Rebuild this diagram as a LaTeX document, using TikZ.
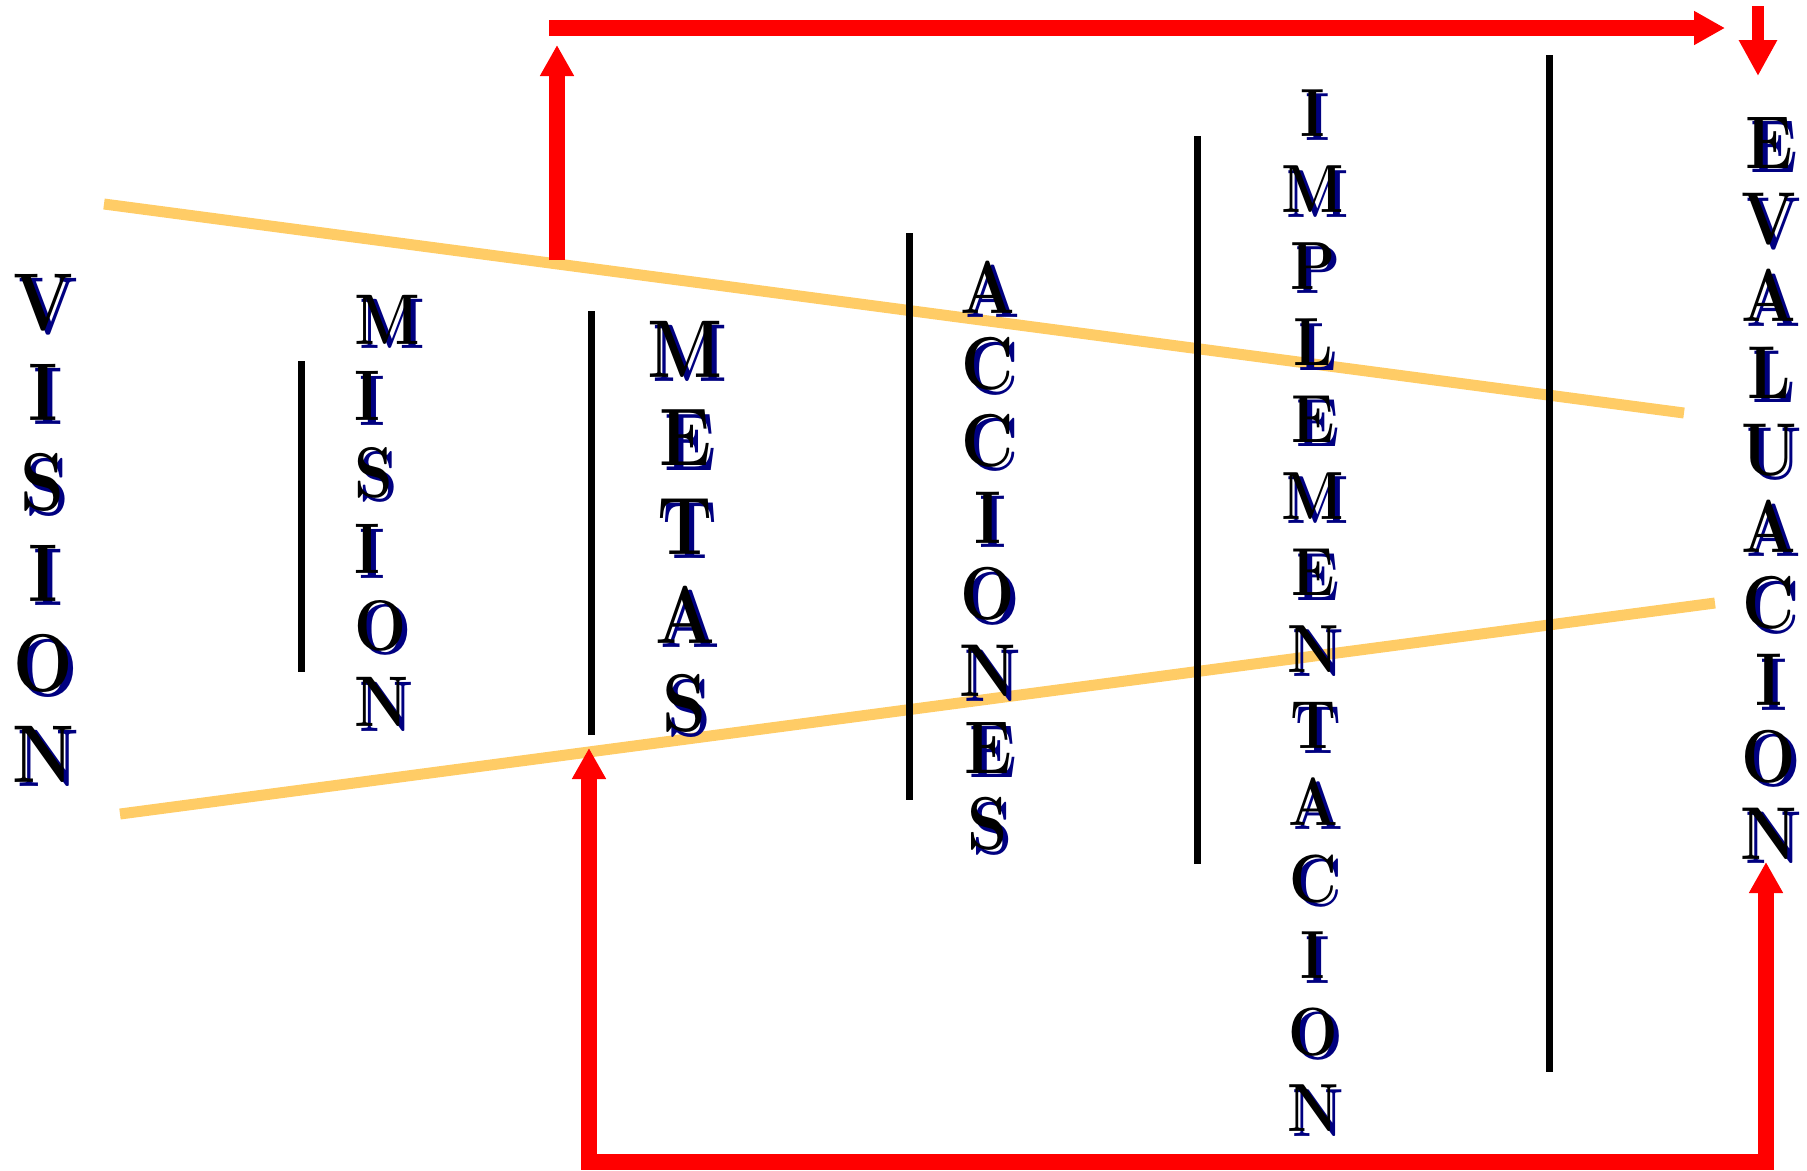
\documentclass[tikz,border=0pt]{standalone}
\usetikzlibrary{arrows.meta}
\definecolor{FlowRed}{RGB}{255,0,0}
\definecolor{FunnelOrange}{RGB}{255,204,102}
\definecolor{ShadowNavy}{RGB}{0,0,128}
\newcommand{\narrow}[1]{\scalebox{0.86}[1]{#1}}

\begin{document}
\begin{tikzpicture}[x=0.1mm, y=-0.1mm,
      divider/.style={line width=0.7mm, black},
      funnel/.style={line width=1.1mm, FunnelOrange},
      flow/.style={line width=1.6mm, FlowRed, line join=miter, -{Triangle[length=3.1mm, width=3.2mm]}},
      letter/.style={inner sep=0pt, anchor=base, font=\fontsize{#1pt}{#1pt}\selectfont\bfseries},
      shade/.style={letter=#1, text=ShadowNavy, xshift=0.5mm, yshift=-0.45mm}
    ]
      \useasboundingbox (0,0) rectangle (1807,1170);

      % funnel borders
      \draw[funnel] (104,204) -- (1684,413);
      \draw[funnel] (120,814) -- (1715,603);

      % stage dividers
      \foreach \x/\top/\bot in {301/361/672, 591/311/735, 909/233/800, 1197/136/864, 1549/55/1072}
        \draw[divider] (\x,\top) -- (\x,\bot);

      % vertical words
      \foreach \ch [count=\i] in {V,I,S,I,O,N} {
        \node[shade=23.3] at ({43}, {239.6+90.4*\i}) {\narrow{\ch}};
        \node[letter=23.3] (vision-\i) at ({43}, {239.6+90.4*\i}) {\narrow{\ch}};
      }
      \foreach \ch [count=\i] in {M,I,S,I,O,N} {
        \node[shade=20.4, anchor=base west] at ({354}, {267.5+76.5*\i}) {\narrow{\ch}};
        \node[letter=20.4, anchor=base west] (mision-\i) at ({354}, {267.5+76.5*\i}) {\narrow{\ch}};
      }
      \foreach \ch [count=\i] in {M,E,T,A,S} {
        \node[shade=23.3] at ({685}, {288.3+88.7*\i}) {\narrow{\ch}};
        \node[letter=23.3] (metas-\i) at ({685}, {288.3+88.7*\i}) {\narrow{\ch}};
      }
      \foreach \ch [count=\i] in {A,C,C,I,O,N,E,S} {
        \node[shade=21.3] at ({988}, {236.3+76.7*\i}) {\narrow{\ch}};
        \node[letter=21.3] (acciones-\i) at ({988}, {236.3+76.7*\i}) {\narrow{\ch}};
      }
      \foreach \ch [count=\i] in {I,M,P,L,E,M,E,N,T,A,C,I,O,N} {
        \node[shade=19.4] at ({1313}, {59.4+76.6*\i}) {\narrow{\ch}};
        \node[letter=19.4] (implem-\i) at ({1313}, {59.4+76.6*\i}) {\narrow{\ch}};
      }
      \foreach \ch [count=\i] in {E,V,A,L,U,A,C,I,O,N} {
        \node[shade=21.3] at ({1769}, {91.2+76.8*\i}) {\narrow{\ch}};
        \node[letter=21.3] (evalua-\i) at ({1769}, {91.2+76.8*\i}) {\narrow{\ch}};
      }

      % feedback arrows
      \coordinate (up-foot) at (557,260);
      \coordinate (up-tip) at (557,45);
      \coordinate (top-start) at (549,28);
      \coordinate (top-tip) at (1725,28);
      \coordinate (down-start) at (1758,6);
      \coordinate (down-tip) at (1758,76);
      \coordinate (left-tip) at (589,748);
      \coordinate (left-corner) at (589,1162);
      \coordinate (right-corner) at (1766,1162);
      \coordinate (right-tip) at (1766,862);

      \draw[flow] (up-foot) -- (up-tip);
      \draw[flow] (top-start) -- (top-tip);
      \draw[flow, line width=1.2mm, -{Triangle[length=3.6mm, width=3.6mm]}] (down-start) -- (down-tip);
      \draw[flow, {Triangle[length=3.1mm, width=3.2mm]}-{Triangle[length=3.1mm, width=3.2mm]}]
        (left-tip) -- (left-corner) -- (right-corner) -- (right-tip);
    \end{tikzpicture}
\end{document}
